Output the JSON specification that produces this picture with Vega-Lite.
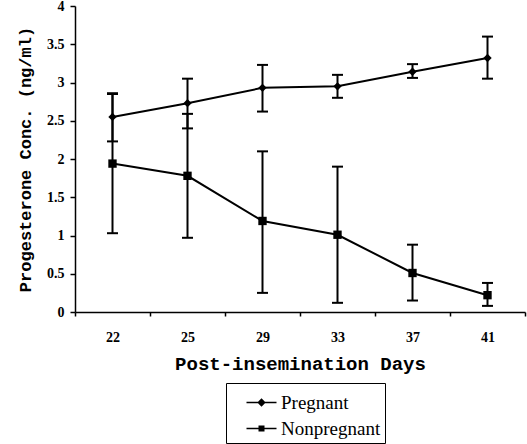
{
  "$schema": "https://vega.github.io/schema/vega-lite/v6.json",
  "width": 450,
  "height": 306,
  "autosize": "none",
  "padding": {"left": 75, "top": 6, "right": 2, "bottom": 132},
  "background": "white",
  "data": {
    "values": [
      {"day": 22, "status": "Pregnant", "mean": 2.55, "lo": 2.23, "hi": 2.86},
      {"day": 25, "status": "Pregnant", "mean": 2.73, "lo": 2.40, "hi": 3.05},
      {"day": 29, "status": "Pregnant", "mean": 2.93, "lo": 2.62, "hi": 3.23},
      {"day": 33, "status": "Pregnant", "mean": 2.95, "lo": 2.80, "hi": 3.10},
      {"day": 37, "status": "Pregnant", "mean": 3.14, "lo": 3.06, "hi": 3.24},
      {"day": 41, "status": "Pregnant", "mean": 3.32, "lo": 3.05, "hi": 3.60},
      {"day": 22, "status": "Nonpregnant", "mean": 1.94, "lo": 1.03, "hi": 2.85},
      {"day": 25, "status": "Nonpregnant", "mean": 1.78, "lo": 0.97, "hi": 2.59},
      {"day": 29, "status": "Nonpregnant", "mean": 1.19, "lo": 0.25, "hi": 2.10},
      {"day": 33, "status": "Nonpregnant", "mean": 1.01, "lo": 0.12, "hi": 1.90},
      {"day": 37, "status": "Nonpregnant", "mean": 0.51, "lo": 0.15, "hi": 0.88},
      {"day": 41, "status": "Nonpregnant", "mean": 0.22, "lo": 0.08, "hi": 0.38}
    ]
  },
  "encoding": {
    "x": {
      "field": "day",
      "type": "ordinal",
      "scale": {"paddingInner": 0, "paddingOuter": 0},
      "axis": {
        "title": "Post-insemination Days",
        "labelAngle": 0,
        "tickBand": "extent",
        "tickSize": 4,
        "labelPadding": 14,
        "titleFontSize": 19,
        "titlePadding": 10
      }
    }
  },
  "layer": [
    {
      "mark": {"type": "rule", "color": "black", "strokeWidth": 2},
      "encoding": {
        "y": {
          "field": "lo",
          "type": "quantitative",
          "scale": {"domain": [0, 4]},
          "axis": {"title": "Progesterone Conc. (ng/ml)", "values": [0, 0.5, 1, 1.5, 2, 2.5, 3, 3.5, 4]}
        },
        "y2": {"field": "hi"}
      }
    },
    {
      "mark": {"type": "tick", "color": "black", "thickness": 2, "size": 11, "opacity": 1},
      "encoding": {
        "y": {
          "field": "lo",
          "type": "quantitative",
          "axis": {"title": "Progesterone Conc. (ng/ml)", "values": [0, 0.5, 1, 1.5, 2, 2.5, 3, 3.5, 4]}
        }
      }
    },
    {
      "mark": {"type": "tick", "color": "black", "thickness": 2, "size": 11, "opacity": 1},
      "encoding": {
        "y": {
          "field": "hi",
          "type": "quantitative",
          "axis": {"title": "Progesterone Conc. (ng/ml)", "values": [0, 0.5, 1, 1.5, 2, 2.5, 3, 3.5, 4]}
        }
      }
    },
    {
      "mark": {"type": "line", "color": "black", "strokeWidth": 2},
      "encoding": {
        "y": {
          "field": "mean",
          "type": "quantitative",
          "axis": {"title": "Progesterone Conc. (ng/ml)", "values": [0, 0.5, 1, 1.5, 2, 2.5, 3, 3.5, 4]}
        },
        "detail": {"field": "status"}
      }
    },
    {
      "mark": {"type": "point", "filled": true, "color": "black", "opacity": 1, "size": 70},
      "encoding": {
        "y": {
          "field": "mean",
          "type": "quantitative",
          "axis": {"title": "Progesterone Conc. (ng/ml)", "values": [0, 0.5, 1, 1.5, 2, 2.5, 3, 3.5, 4]}
        },
        "shape": {
          "field": "status",
          "type": "nominal",
          "scale": {"domain": ["Pregnant", "Nonpregnant"], "range": ["diamond", "square"]},
          "legend": null
        }
      }
    },
    {
      "mark": {"type": "point", "filled": true, "color": "black", "opacity": 0, "size": 900},
      "encoding": {
        "y": {
          "field": "mean",
          "type": "quantitative",
          "axis": {"title": "Progesterone Conc. (ng/ml)", "values": [0, 0.5, 1, 1.5, 2, 2.5, 3, 3.5, 4]}
        },
        "shape": {
          "field": "status",
          "type": "nominal",
          "scale": {
            "domain": ["Pregnant", "Nonpregnant"],
            "range": [
              "M-1,-0.05H1V0.05H-1ZM0,-0.28L0.28,0L0,0.28L-0.28,0Z",
              "M-1,-0.05H1V0.05H-1ZM-0.2,-0.2H0.2V0.2H-0.2Z"
            ]
          },
          "legend": {
            "title": null,
            "orient": "none",
            "direction": "vertical",
            "legendX": 151,
            "legendY": 377,
            "padding": 4,
            "strokeColor": "black",
            "fillColor": "white",
            "symbolSize": 900,
            "symbolOpacity": 1,
            "symbolFillColor": "black",
            "symbolStrokeColor": "black",
            "symbolStrokeWidth": 0.5,
            "symbolOffset": 16,
            "labelFont": "Liberation Serif",
            "labelFontSize": 19,
            "labelColor": "black",
            "labelOffset": 4,
            "rowPadding": 0
          }
        }
      }
    }
  ],
  "resolve": {"scale": {"shape": "independent"}, "legend": {"shape": "independent"}},
  "config": {
    "view": {"stroke": null},
    "axis": {
      "domainColor": "black",
      "domainWidth": 1.5,
      "tickColor": "black",
      "tickWidth": 1.5,
      "labelFont": "Liberation Serif",
      "labelFontWeight": "bold",
      "labelFontSize": 14,
      "labelColor": "black",
      "titleFont": "Liberation Mono",
      "titleFontWeight": "bold",
      "titleColor": "black"
    },
    "axisY": {
      "format": "~g",
      "labelOverlap": false,
      "grid": false,
      "tickSize": 5,
      "labelPadding": 6,
      "titleFontSize": 17,
      "titlePadding": 12
    }
  }
}
